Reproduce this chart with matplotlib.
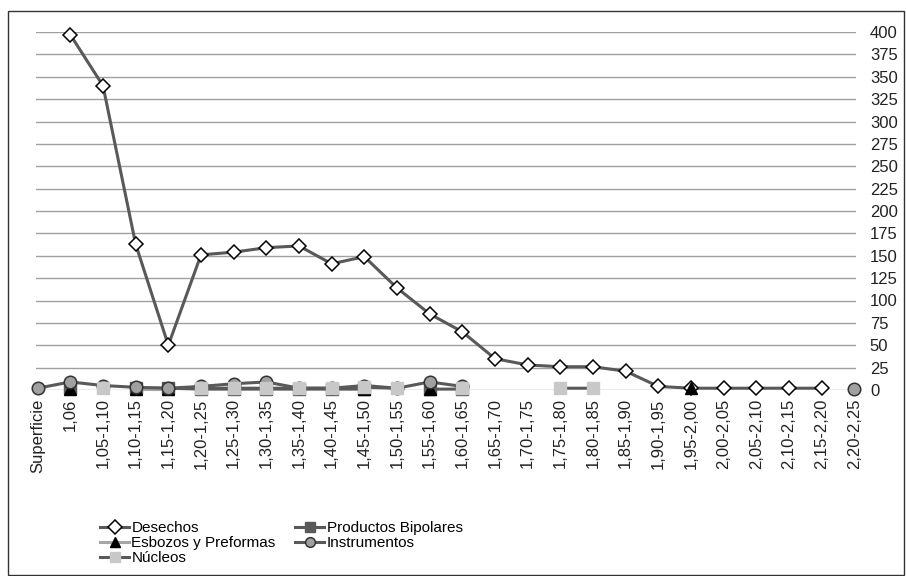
import numpy as np
import matplotlib
matplotlib.use("Agg")
import matplotlib.pyplot as plt
from matplotlib.patches import Rectangle

nan = np.nan

categories = ["Superficie", "1,06", "1,05-1,10", "1,10-1,15", "1,15-1,20", "1,20-1,25",
              "1,25-1,30", "1,30-1,35", "1,35-1,40", "1,40-1,45", "1,45-1,50", "1,50-1,55",
              "1,55-1,60", "1,60-1,65", "1,65-1,70", "1,70-1,75", "1,75-1,80", "1,80-1,85",
              "1,85-1,90", "1,90-1,95", "1,95-2,00", "2,00-2,05", "2,05-2,10", "2,10-2,15",
              "2,15-2,20", "2,20-2,25"]

desechos = [nan, 397, 340, 163, 50, 151, 154, 159, 161, 141, 149, 114,
            85, 65, 35, 28, 26, 26, 21, 4, 2, 2, 2, 2, 2, nan]
bipolares = [nan, 2, nan, 2, 2, 1, 1, 1, 1, 1, 1, nan,
             1, 1, nan, nan, nan, nan, nan, nan, nan, nan, nan, nan, nan, nan]
esbozos = [nan, 1, nan, 1, 1, nan, nan, nan, nan, nan, 1, nan,
           1, nan, nan, nan, nan, nan, nan, nan, 2, nan, nan, nan, nan, nan]
instrumentos = [2, 9, 5, 3, 2, 4, 7, 9, 2, 2, 5, 2,
                9, 4, nan, nan, nan, nan, nan, nan, nan, nan, nan, nan, nan, 1]
nucleos = [nan, nan, 2, nan, nan, 2, 2, 2, 2, 2, 3, 2,
           nan, 2, nan, nan, 2, 2, nan, nan, nan, nan, nan, nan, nan, nan]

yticks = list(range(0, 401, 25))

plt.rcParams['font.family'] = ['Liberation Sans', 'DejaVu Sans']

fig = plt.figure(figsize=(9.06, 5.76), dpi=100)
ax = fig.add_axes([36/906, 1 - 390/576, (856-36)/906, (390-32)/576])

x = np.arange(len(categories))
dark = '#595959'

h1, = ax.plot(x, desechos, color=dark, lw=2.2, marker='D', ms=7.5, mfc='white',
              mec='black', mew=1.1, clip_on=False, zorder=3, label='Desechos')
h2, = ax.plot(x, bipolares, color=dark, lw=2.2, marker='s', ms=8, mfc=dark,
              mec=dark, clip_on=False, zorder=4, label='Productos Bipolares')
h3, = ax.plot(x, esbozos, color='#a6a6a6', lw=2.2, marker='^', ms=9, mfc='black',
              mec='black', clip_on=False, zorder=5, label='Esbozos y Preformas')
h4, = ax.plot(x, instrumentos, color=dark, lw=2.2, marker='o', ms=9, mfc='#a0a0a0',
              mec='#333333', mew=1.1, clip_on=False, zorder=6, label='Instrumentos')
h5, = ax.plot(x, nucleos, color=dark, lw=2.2, marker='s', ms=8, mfc='#c8c8c8',
              mec='#c8c8c8', clip_on=False, zorder=7, label='Núcleos')

ax.set_xlim(-0.05, len(categories) - 0.95)
ax.set_ylim(0, 400)
ax.set_yticks(yticks)
ax.yaxis.tick_right()
ax.tick_params(axis='y', length=0, pad=10, labelsize=12, labelcolor='#222222')
ax.set_xticks(x)
ax.set_xticklabels(categories, rotation=90, fontsize=12, color='#222222')
ax.tick_params(axis='x', length=0, pad=6)
ax.grid(axis='y', color='#a0a0a0', lw=1)
ax.set_axisbelow(True)
for s in ax.spines.values():
    s.set_visible(False)

leg = fig.legend([h1, h3, h5, h2, h4],
                 ['Desechos', 'Esbozos y Preformas', 'Núcleos', 'Productos Bipolares', 'Instrumentos'],
                 ncol=2, loc='upper left', bbox_to_anchor=(100/906, 1 - 521/576),
                 frameon=False, borderpad=0, borderaxespad=0, handlelength=1.9,
                 handletextpad=0.15, labelspacing=0.08, columnspacing=1.3,
                 prop={'size': 11})
for lh in leg.legend_handles:
    lh.set_markersize(7)

fig.add_artist(Rectangle((8/906, 1/576), 896/906, (576-12)/576, transform=fig.transFigure,
                         fill=False, ec='#333333', lw=1))

fig.savefig('out.png', dpi=100)
